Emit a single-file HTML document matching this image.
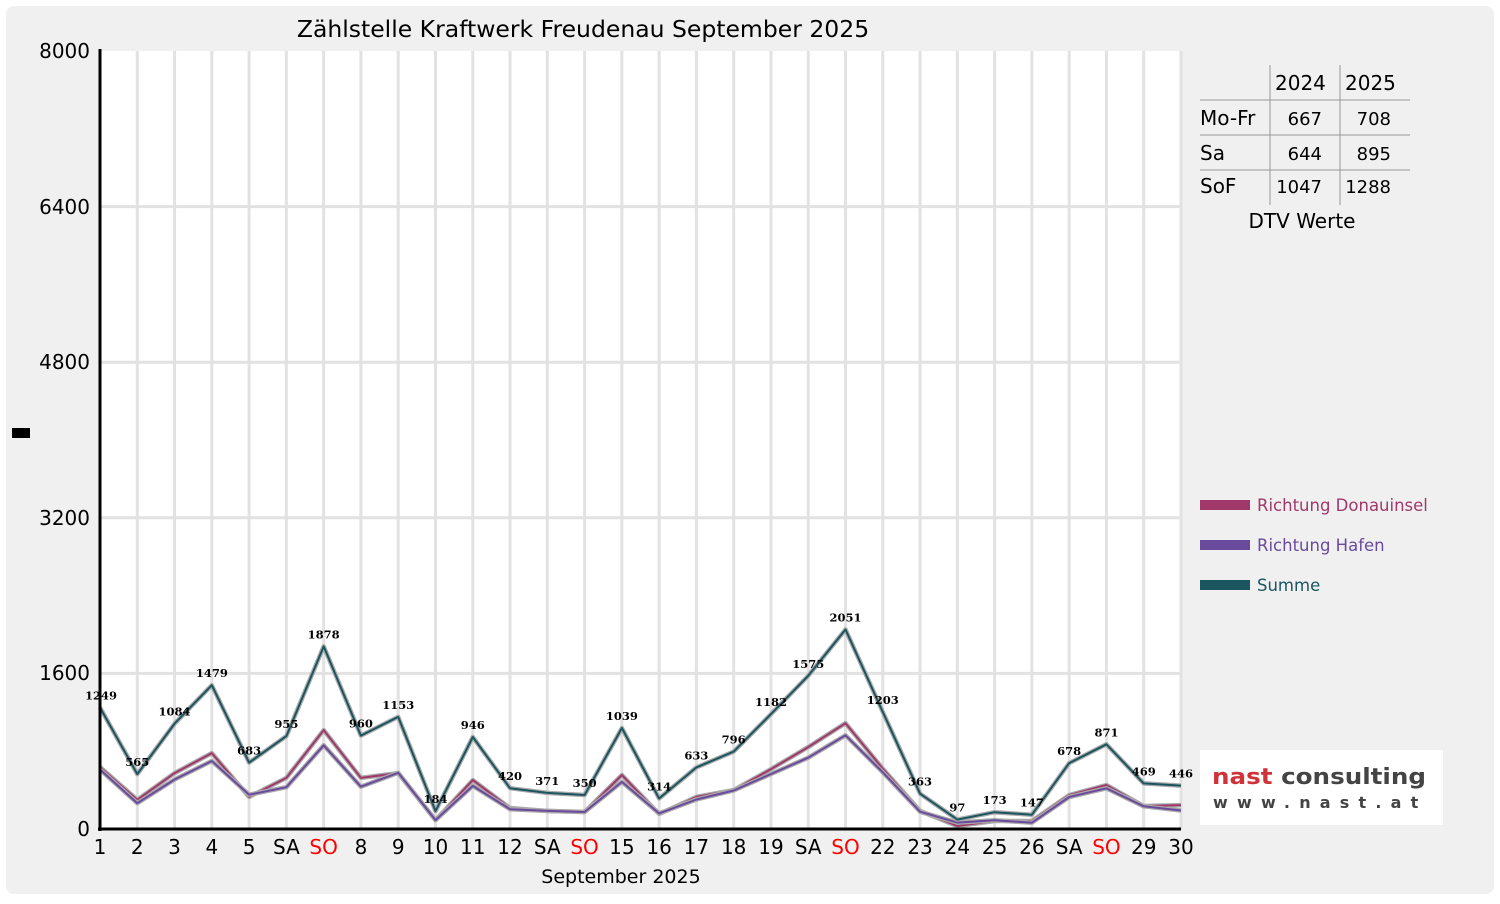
<!DOCTYPE html>
<html><head><meta charset="utf-8"><style>
body{margin:0;background:#fff;width:1500px;height:900px;overflow:hidden;font-family:"DejaVu Sans","Liberation Sans",sans-serif}
</style></head><body>
<svg id="s" width="1500" height="900" xmlns="http://www.w3.org/2000/svg" font-family="DejaVu Sans, Liberation Sans, sans-serif">
<rect x="6" y="6" width="1488" height="888" rx="8" fill="#f0f0f0"/>
<rect x="100" y="51" width="1081" height="778" fill="#fff"/>
<text x="583" y="37" font-size="23.5" text-anchor="middle" fill="#000">Zählstelle Kraftwerk Freudenau September 2025</text>
<g id="grid"></g>
<g id="lines"></g>
<g id="lbl" font-family="DejaVu Serif, Liberation Serif, serif" font-size="11.5" font-weight="bold" text-anchor="middle"></g>
<line x1="100" y1="49" x2="100" y2="831" stroke="#000" stroke-width="3"/>
<line x1="98" y1="829" x2="1181" y2="829" stroke="#000" stroke-width="3"/>
<g font-size="20" text-anchor="end">
<text x="90" y="58">8000</text><text x="90" y="214">6400</text><text x="90" y="369">4800</text><text x="90" y="525">3200</text><text x="90" y="680">1600</text><text x="90" y="836">0</text>
</g>
<rect x="12" y="428" width="18" height="10" fill="#000"/>
<g id="xl" font-size="20" text-anchor="middle"></g>
<text x="621" y="883" font-size="19" text-anchor="middle">September 2025</text>
<g stroke="#999" stroke-width="1">
<line x1="1270" y1="65" x2="1270" y2="205"/><line x1="1340" y1="65" x2="1340" y2="205"/>
<line x1="1200" y1="100" x2="1410" y2="100"/><line x1="1200" y1="135" x2="1410" y2="135"/><line x1="1200" y1="170" x2="1410" y2="170"/>
</g>
<g font-size="20">
<text x="1275" y="90">2024</text><text x="1345" y="90">2025</text>
<text x="1200" y="125">Mo-Fr</text><text x="1322" y="125" text-anchor="end" font-size="18">667</text><text x="1391" y="125" text-anchor="end" font-size="18">708</text>
<text x="1200" y="160">Sa</text><text x="1322" y="160" text-anchor="end" font-size="18">644</text><text x="1391" y="160" text-anchor="end" font-size="18">895</text>
<text x="1200" y="193">SoF</text><text x="1322" y="193" text-anchor="end" font-size="18">1047</text><text x="1391" y="193" text-anchor="end" font-size="18">1288</text>
<text x="1302" y="228" text-anchor="middle">DTV Werte</text>
</g>
<g font-size="16.5">
<rect x="1200" y="500" width="50" height="10" fill="#a0386a"/><text x="1257" y="511" fill="#a0386a">Richtung Donauinsel</text>
<rect x="1200" y="540" width="50" height="10" fill="#6a4a9c"/><text x="1257" y="551" fill="#6a4a9c">Richtung Hafen</text>
<rect x="1200" y="580" width="50" height="10" fill="#1a5560"/><text x="1257" y="591" fill="#1a5560">Summe</text>
</g>
<rect x="1200" y="750" width="243" height="75" fill="#fff"/>
<text x="1212" y="784" font-size="22" font-weight="bold" fill="#d0323a" textLength="214" lengthAdjust="spacingAndGlyphs">nast <tspan fill="#444">consulting</tspan></text>
<text x="1213" y="808" font-size="16" font-weight="bold" fill="#444" letter-spacing="9.2">www.nast.at</text>
</svg>
<script>
var S=[1249,565,1084,1479,683,955,1878,960,1153,184,946,420,371,350,1039,314,633,796,1182,1575,2051,1203,363,97,173,147,678,871,469,446];
var D=[637,300,575,780,330,525,1017,525,575,92,503,216,185,175,555,154,330,400,616,842,1088,620,185,31,82,82,349,452,236,246];
var XL=["1","2","3","4","5","SA","SO","8","9","10","11","12","SA","SO","15","16","17","18","19","SA","SO","22","23","24","25","26","SA","SO","29","30"];
var ns="http://www.w3.org/2000/svg";
function X(i){return 100+i*1081/29}function Y(v){return 829-v*778/8000}
function el(p,t,a,txt){var e=document.createElementNS(ns,t);for(var k in a)e.setAttribute(k,a[k]);if(txt!=null)e.textContent=txt;document.getElementById(p).appendChild(e);return e}
for(var i=1;i<30;i++)el("grid","line",{x1:X(i),y1:51,x2:X(i),y2:829,stroke:"#e2e2e2","stroke-width":3});
for(var j=1;j<5;j++)el("grid","line",{x1:100,y1:Y(j*1600),x2:1181,y2:Y(j*1600),stroke:"#e2e2e2","stroke-width":3});
function pts(a){return a.map(function(v,i){return X(i).toFixed(1)+","+Y(v).toFixed(1)}).join(" ")}
var H=S.map(function(v,i){return Math.max(v-D[i],10)});
H[29]=190;
[[D,"#a0386a"],[H,"#6a4a9c"],[S,"#1a5560"]].forEach(function(p){
el("lines","polyline",{points:pts(p[0]),fill:"none",stroke:"#aaa","stroke-width":4.5,"stroke-linejoin":"round"});
el("lines","polyline",{points:pts(p[0]),fill:"none",stroke:p[1],"stroke-width":2,"stroke-linejoin":"round"});});
S.forEach(function(v,i){el("lbl","text",{x:X(i)+(i==0?1:0),y:Y(v)-8},String(v))});
XL.forEach(function(t,i){el("xl","text",{x:X(i),y:854,fill:t=="SO"?"#f00":"#000"},t)});
</script>
</body></html>
